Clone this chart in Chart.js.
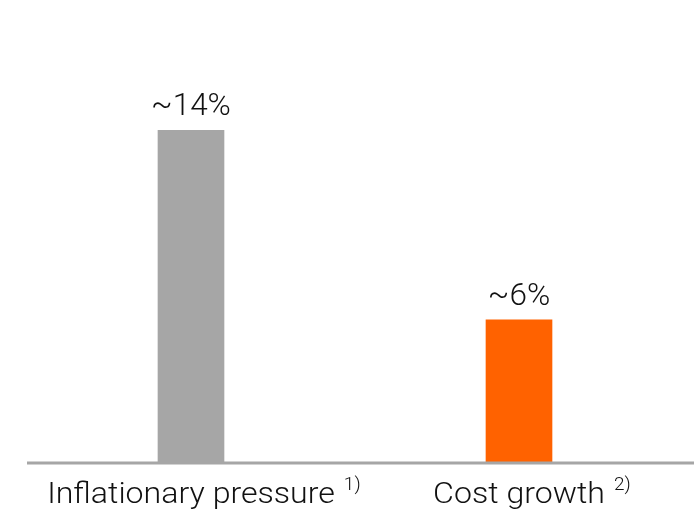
<!DOCTYPE html>
<html>
<head>
<meta charset="utf-8">
<script src="https://cdn.jsdelivr.net/npm/chart.js@4"></script>
<style>
  html, body { margin: 0; padding: 0; background: #fff; }
  #wrap { width: 694px; height: 513px; position: relative; }
</style>
</head>
<body>
<div id="wrap"><canvas id="chart"></canvas></div>
<script>
// ===== Data =====
const categories = ['Inflationary pressure', 'Cost growth'];
const footnotes = ['1)', '2)'];
const values = [14, 6];
const valueLabels = ['~14%', '~6%'];
const barColors = ['#a6a6a6', '#ff6200'];

const FONT = "'Roboto', sans-serif";
const STRETCH = 1.07; // widen the category text like the original typeface

// draw text horizontally scaled, x = left edge
function scaledText(ctx, text, x, y, sx) {
  ctx.save();
  ctx.translate(x, y);
  ctx.scale(sx, 1);
  ctx.fillText(text, 0, 0);
  ctx.restore();
}

// value labels above bars + category labels with superscript footnotes
const labelPlugin = {
  id: 'labels',
  afterDatasetsDraw(chart) {
    const ctx = chart.ctx;
    const meta = chart.getDatasetMeta(0);
    const base = chart.scales.y.getPixelForValue(0);
    ctx.save();
    ctx.fillStyle = '#111';
    ctx.textBaseline = 'alphabetic';
    meta.data.forEach((bar, i) => {
      ctx.font = '300 31.5px ' + FONT;
      ctx.textAlign = 'center';
      ctx.fillText(valueLabels[i], bar.x, bar.y - 15);

      // category label centred on the bar, footnote appended
      ctx.textAlign = 'left';
      ctx.font = '300 30px ' + FONT;
      const w = ctx.measureText(categories[i]).width * STRETCH;
      const left = bar.x - w / 2;
      scaledText(ctx, categories[i], left, base + 41, STRETCH);
      ctx.font = '300 19px ' + FONT;
      ctx.fillText(footnotes[i], left + w + 9, base + 28);
    });
    // baseline
    ctx.strokeStyle = '#a6a6a6';
    ctx.lineWidth = 3;
    ctx.beginPath();
    ctx.moveTo(27, base + 1);
    ctx.lineTo(chart.width, base + 1);
    ctx.stroke();
    ctx.restore();
  }
};

new Chart(document.getElementById('chart'), {
  type: 'bar',
  data: {
    labels: categories,
    datasets: [{
      data: values,
      backgroundColor: barColors,
      barThickness: 66
    }]
  },
  options: {
    responsive: true,
    maintainAspectRatio: false,
    animation: false,
    layout: { padding: { left: 27, right: 11, top: 0, bottom: 51 } },
    plugins: { legend: { display: false }, tooltip: { enabled: false } },
    scales: {
      x: { display: false },
      y: {
        display: false,
        min: 0,
        max: 19.5
      }
    }
  },
  plugins: [labelPlugin]
});
</script>
</body>
</html>
